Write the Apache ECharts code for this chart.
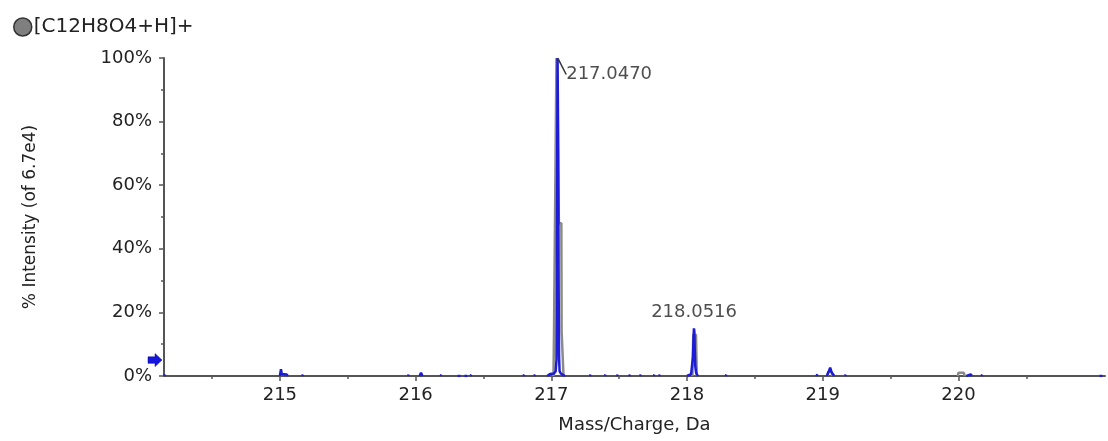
<!DOCTYPE html>
<html>
<head>
<meta charset="utf-8">
<script src="https://cdn.jsdelivr.net/npm/echarts/dist/echarts.min.js"></script>
<style>
  html, body { margin: 0; padding: 0; background: #fff; }
  #main { width: 1108px; height: 441px; }
</style>
</head>
<body>
<div id="main"></div>
<script>
// 轴刻度
var xTicks = [215, 216, 217, 218, 219, 220];
var xMinorTicks = [214.5, 215.5, 216.5, 217.5, 218.5, 219.5, 220.5];
var xRange = [214.146, 221.08];
var yRange = [0, 100];

// 实测谱（蓝色）— 每段是一个小峰
var measuredSegments = [
  [[214.148, 0], [214.152, 0.5], [214.158, 0]],
  [[215.0, 0], [215.008, 2.1], [215.014, 0.6], [215.05, 0.5], [215.058, 0]],
  [[215.165, 0], [215.17, 0.5], [215.176, 0]],
  [[215.945, 0], [215.95, 0.5], [215.956, 0]],
  [[216.03, 0], [216.04, 1.0], [216.05, 0]],
  [[216.185, 0], [216.19, 0.5], [216.196, 0]],
  [[216.31, 0], [216.32, 0.5], [216.33, 0]],
  [[216.36, 0], [216.37, 0.6], [216.38, 0]],
  [[216.405, 0], [216.41, 0.5], [216.416, 0]],
  [[216.795, 0], [216.8, 0.5], [216.806, 0]],
  [[216.875, 0], [216.88, 0.5], [216.886, 0]],
  [[216.97, 0], [216.99, 0.6], [217.02, 0.8], [217.032, 1.5], [217.038, 5], [217.041, 30],
   [217.044, 75], [217.046, 100], [217.049, 100], [217.051, 72], [217.054, 28], [217.057, 6],
   [217.061, 1.5], [217.07, 0.8], [217.1, 0]],
  [[217.285, 0], [217.29, 0.5], [217.296, 0]],
  [[217.395, 0], [217.4, 0.5], [217.406, 0]],
  [[217.485, 0], [217.49, 0.5], [217.496, 0]],
  [[217.575, 0], [217.58, 0.5], [217.586, 0]],
  [[217.655, 0], [217.66, 0.5], [217.666, 0]],
  [[217.755, 0], [217.76, 0.5], [217.766, 0]],
  [[217.795, 0], [217.8, 0.5], [217.806, 0]],
  [[218.0, 0], [218.03, 0.6], [218.038, 1.2], [218.044, 6], [218.048, 12], [218.051, 15],
   [218.054, 14], [218.057, 8], [218.061, 3], [218.067, 1], [218.08, 0]],
  [[218.285, 0], [218.29, 0.5], [218.296, 0]],
  [[218.955, 0], [218.96, 0.6], [218.966, 0]],
  [[219.03, 0], [219.045, 1.5], [219.055, 2.6], [219.065, 1.2], [219.085, 0]],
  [[219.165, 0], [219.17, 0.5], [219.176, 0]],
  [[220.06, 0], [220.07, 0.6], [220.09, 0.5], [220.1, 0]],
  [[220.17, 0], [220.175, 0.5], [220.181, 0]],
  [[221.04, 0], [221.05, 0.6], [221.06, 0]]
];

// 理论同位素分布（灰色）
var theorySegments = [
  [[217.016, 0], [217.02, 14], [217.034, 14], [217.038, 100], [217.05, 100], [217.056, 48],
   [217.074, 48], [217.076, 14], [217.086, 14], [217.09, 0]],
  [[218.04, 0], [218.046, 13], [218.066, 13], [218.072, 0]],
  [[219.035, 0], [219.04, 1.3], [219.065, 1.3], [219.072, 0]],
  [[219.995, 0], [220.0, 1.0], [220.04, 1.0], [220.046, 0]]
];

// 峰标注
var peakMz = [217.047, 218.052];
var peakInt = [100, 15];
var peakText = ['217.0470', '218.0516'];

var seriesName = '[C12H8O4+H]+';
var textColor = '#222';
var font = 'DejaVu Sans';

// 把各段拼起来，中间用 '-' 断开
function joinSegments(segs) {
  var out = [];
  segs.forEach(function (s, i) {
    if (i > 0) out.push(['-', '-']);
    s.forEach(function (p) { out.push(p); });
  });
  return out;
}

var myChart = echarts.init(document.getElementById('main'));

var option = {
  animation: false,
  textStyle: { fontFamily: font },
  legend: {
    left: 8,
    top: 12,
    itemWidth: 18,
    itemHeight: 18,
    icon: 'circle',
    data: [seriesName],
    itemStyle: { color: '#7f7f7f', borderColor: '#333', borderWidth: 1.5 },
    lineStyle: { opacity: 0 },
    textStyle: { color: textColor, fontSize: 20, fontFamily: font, padding: [0, 0, 0, -3] }
  },
  grid: { left: 164, right: 3, top: 58, bottom: 65 },
  xAxis: [{
    type: 'value',
    min: xRange[0],
    max: xRange[1],
    name: 'Mass/Charge, Da',
    nameLocation: 'middle',
    nameGap: 40,
    nameTextStyle: { color: textColor, fontSize: 18, fontFamily: font },
    axisLine: { lineStyle: { color: '#555', width: 2 } },
    axisTick: { customValues: xTicks, length: 5, lineStyle: { color: '#555', width: 1.5 } },
    axisLabel: { customValues: xTicks, color: textColor, fontSize: 18, margin: 10 },
    splitLine: { show: false }
  }, {
    // 半单位小刻度
    type: 'value',
    position: 'bottom',
    min: xRange[0],
    max: xRange[1],
    axisLine: { show: false },
    axisTick: { customValues: xMinorTicks, length: 3, lineStyle: { color: '#555', width: 1.5 } },
    axisLabel: { show: false },
    splitLine: { show: false }
  }],
  yAxis: {
    type: 'value',
    min: yRange[0],
    max: yRange[1],
    interval: 20,
    name: '% Intensity (of 6.7e4)',
    nameLocation: 'middle',
    nameGap: 125,
    nameTextStyle: { color: textColor, fontSize: 17, fontFamily: font },
    axisLine: { show: true, lineStyle: { color: '#555', width: 2 } },
    axisTick: { show: true, length: 5, lineStyle: { color: '#555', width: 1.5 } },
    minorTick: { show: true, splitNumber: 2, length: 3, lineStyle: { color: '#555', width: 1.5 } },
    axisLabel: { formatter: '{value}%', color: textColor, fontSize: 18, margin: 12 },
    splitLine: { show: false }
  },
  series: [{
    name: seriesName,
    type: 'line',
    symbol: 'none',
    z: 2,
    lineStyle: { color: '#8a8a8a', width: 2.5 },
    itemStyle: { color: '#7f7f7f' },
    data: joinSegments(theorySegments)
  }, {
    name: 'measured',
    type: 'line',
    symbol: 'none',
    z: 3,
    lineStyle: { color: '#1c1cd8', width: 2.5 },
    itemStyle: { color: '#1c1cd8' },
    data: joinSegments(measuredSegments),
    markPoint: {
      symbol: 'path://M0,3 L6,3 L6,0 L12,6 L6,12 L6,9 L0,9 Z',
      symbolSize: [14, 13],
      symbolOffset: [-9, 0],
      itemStyle: { color: '#1515e0', borderColor: '#0a0a80', borderWidth: 0.5 },
      label: { show: false },
      data: [{ coord: [xRange[0], 5] }]
    }
  }, {
    name: 'labels',
    type: 'scatter',
    symbolSize: 1,
    z: 4,
    silent: true,
    itemStyle: { color: 'rgba(0,0,0,0)' },
    data: peakMz.map(function (m, i) {
      return {
        value: [m, peakInt[i]],
        label: i === 0
          ? { show: true, position: [9, 8], formatter: peakText[i] }
          : { show: true, position: 'top', distance: 6, formatter: peakText[i] },
        labelLine: i === 0
          ? { show: true, smooth: 0.6, lineStyle: { color: '#333', width: 1.5 } }
          : { show: false }
      };
    }),
    label: { color: textColor, fontSize: 18, fontFamily: font }
  }]
};

myChart.setOption(option, true);
</script>
</body>
</html>
